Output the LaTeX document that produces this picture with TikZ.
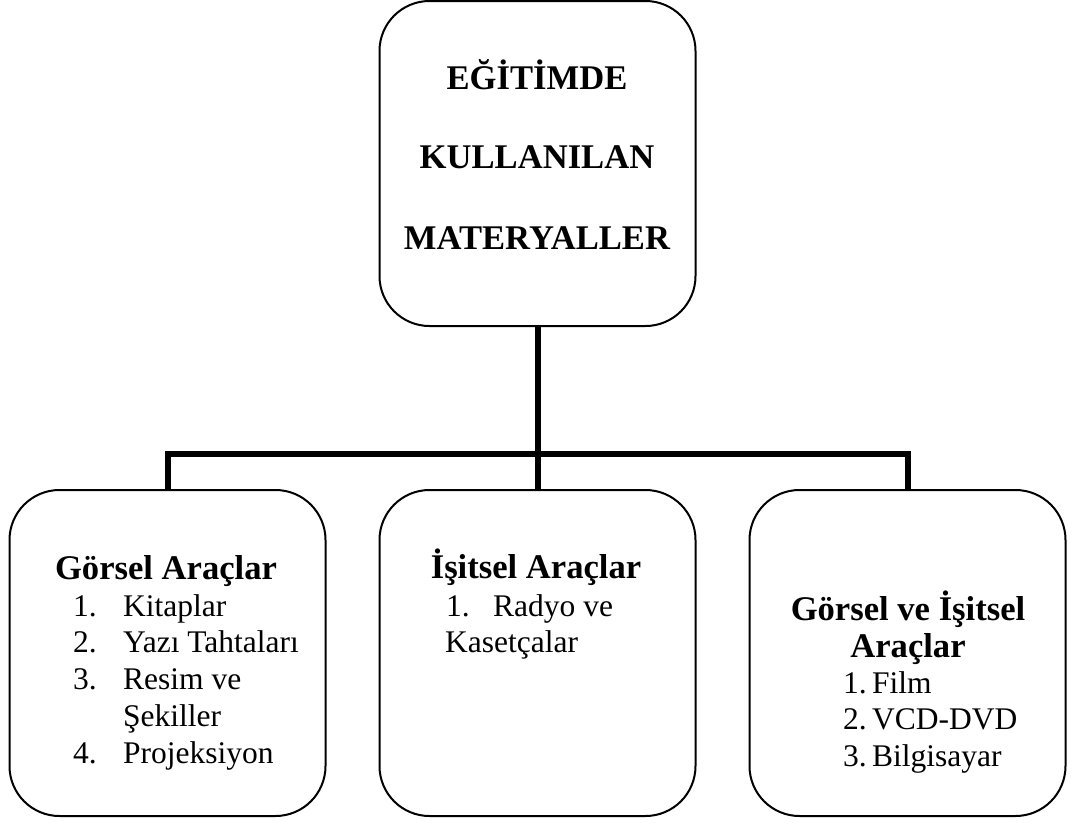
\documentclass[tikz,border=0pt]{standalone}
\usepackage{fontspec}
\setmainfont{Liberation Serif}

\begin{document}
\begin{tikzpicture}[x=1pt,y=-1pt,
    kutu/.style={draw,rounded corners=50pt,line width=2pt,minimum width=316pt,minimum height=326pt,inner sep=0pt},
    baslik/.style={font=\fontsize{34.6}{40}\selectfont\bfseries,anchor=base,inner sep=0pt},
    madde/.style={font=\fontsize{31.5}{36}\selectfont,anchor=base west,inner sep=0pt},
    level distance=489.5pt,sibling distance=370pt,
    edge from parent/.style={draw,line width=6pt},
    edge from parent path={(\tikzparentnode.south) -- +(0pt,-127pt) -| (\tikzchildnode.north)}]
  \useasboundingbox (0,0) rectangle (1071,822);
      \node[kutu,minimum height=325pt](ana) at (537.5,163.5){}
        child{
          node[kutu](gorsel){}
        }
        child{
          node[kutu](isitsel){}
        }
        child{
          node[kutu](ikisi){}
        };
      \node[baslik](a1) at (537,89){EĞİTİMDE};
      \node[baslik](a2) at (537,168){KULLANILAN};
      \node[baslik](a3) at (537,249){MATERYALLER};
      \node[baslik](g0) at (166,579){Görsel Araçlar};
      \node[madde](g1) at (73,616){\makebox[50pt][l]{1.}Kitaplar};
      \node[madde](g2) at (73,652.5){\makebox[50pt][l]{2.}Yazı Tahtaları};
      \node[madde](g3) at (73,689){\makebox[50pt][l]{3.}Resim ve};
      \node[madde](g3b) at (123,726){Şekiller};
      \node[madde](g4) at (73,763){\makebox[50pt][l]{4.}Projeksiyon};
      \node[baslik](i0) at (536,578){İşitsel Araçlar};
      \node[madde](i1) at (446,616){\makebox[47pt][l]{1.}Radyo ve};
      \node[madde](i1b) at (445,652){Kasetçalar};
      \node[baslik](k0) at (908,620){Görsel ve İşitsel};
      \node[baslik](k0b) at (908,657){Araçlar};
      \node[madde](k1) at (843,693){\makebox[29pt][l]{1.}Film};
      \node[madde](k2) at (843,729.5){\makebox[29pt][l]{2.}VCD-DVD};
      \node[madde](k3) at (843,766){\makebox[29pt][l]{3.}Bilgisayar};
    \end{tikzpicture}
\end{document}
